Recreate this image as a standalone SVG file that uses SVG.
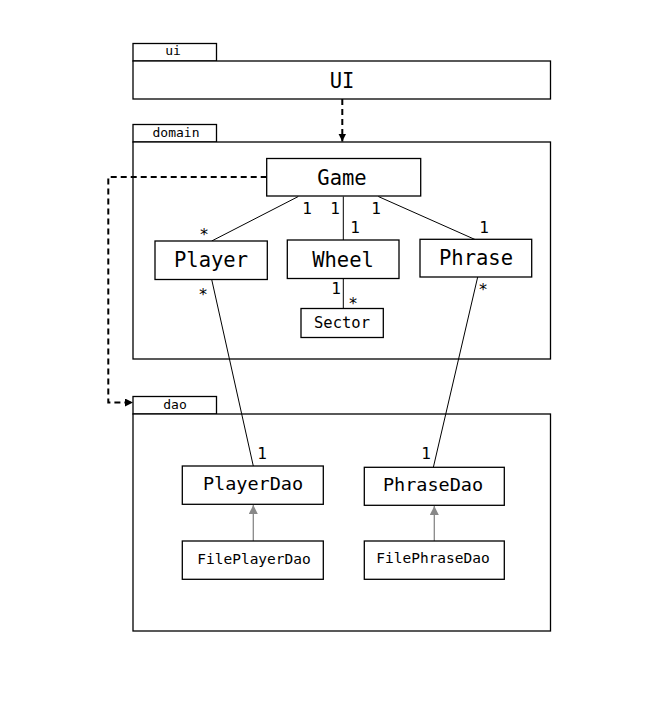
<svg xmlns="http://www.w3.org/2000/svg" width="665" height="714" viewBox="0 0 665 714">
<defs>
<style>
.box{fill:#fff;stroke:#000;stroke-width:1.3}
.pkg{fill:#fff;stroke:#000;stroke-width:1.3}
text{font-family:"DejaVu Sans Mono","Liberation Mono",monospace;fill:#000;text-anchor:middle}
.big{font-size:20.5px}
.mid{font-size:18.5px}
.sm{font-size:15.5px}
.xs{font-size:14.5px}
.tab{font-size:13px}
.mult{font-size:16px}
.assoc{stroke:#000;stroke-width:1;fill:none}
.dep{stroke:#000;stroke-width:2;stroke-dasharray:6 4;fill:none}
.gen{stroke:#888;stroke-width:1.3;fill:none}
</style>
<marker id="dh" viewBox="0 0 10 10" refX="10" refY="5" markerWidth="8" markerHeight="8" markerUnits="userSpaceOnUse" orient="auto"><path d="M0,0 L10,5 L0,10 z" fill="#000"/></marker>
<marker id="gh" viewBox="0 0 10 10" refX="10" refY="5" markerWidth="9" markerHeight="9" markerUnits="userSpaceOnUse" orient="auto"><path d="M0,0 L10,5 L0,10 z" fill="#888"/></marker>
</defs>
<rect width="665" height="714" fill="#fff"/>

<g id="pkg-ui">
<rect class="pkg" x="133" y="43.5" width="83.5" height="17.5"/>
<text class="tab" x="173" y="55">ui</text>
<rect class="pkg" x="133" y="61" width="417.5" height="38"/>
<text class="big" x="342" y="88">UI</text>
</g>

<g id="pkg-domain">
<rect class="pkg" x="133" y="124.5" width="83.5" height="17.5"/>
<text class="tab" x="176" y="137">domain</text>
<rect class="pkg" x="133" y="142" width="417.5" height="217"/>
</g>

<g id="pkg-dao">
<rect class="pkg" x="133" y="396.5" width="83.5" height="17.5"/>
<text class="tab" x="175" y="409">dao</text>
<rect class="pkg" x="133" y="414" width="417.5" height="217"/>
</g>

<g id="connectors">
<line class="dep" x1="342.3" y1="99" x2="342.3" y2="141.5" marker-end="url(#dh)"/>
<polyline class="dep" points="266.7,177 108.3,177 108.3,402.5 133,402.5" marker-end="url(#dh)"/>
<line class="assoc" x1="298.3" y1="196.5" x2="211.7" y2="241"/>
<line class="assoc" x1="343.3" y1="196.5" x2="343.3" y2="240"/>
<line class="assoc" x1="378.3" y1="196.5" x2="475" y2="239.5"/>
<line class="assoc" x1="343.3" y1="278.5" x2="343.3" y2="308.5"/>
<line class="assoc" x1="211.7" y1="279.5" x2="253.3" y2="466"/>
<line class="assoc" x1="477.7" y1="277" x2="433.3" y2="467.5"/>
<line class="gen" x1="253.3" y1="541" x2="253.3" y2="505" marker-end="url(#gh)"/>
<line class="gen" x1="434.3" y1="541" x2="434.3" y2="506" marker-end="url(#gh)"/>
<text class="mult" x="307" y="214">1</text>
<text class="mult" x="335" y="214">1</text>
<text class="mult" x="376" y="214">1</text>
<text class="mult" x="355" y="233">1</text>
<text class="mult" x="484" y="233">1</text>
<text class="mult" x="204" y="240">*</text>
<text class="mult" x="203" y="300">*</text>
<text class="mult" x="336" y="294">1</text>
<text class="mult" x="353" y="309">*</text>
<text class="mult" x="483" y="295">*</text>
<text class="mult" x="262" y="459">1</text>
<text class="mult" x="426" y="459">1</text>
</g>

<g id="Game">
<rect class="box" x="266.7" y="158.5" width="154" height="37.5"/>
<text class="big" x="342" y="185">Game</text>
</g>
<g id="Player">
<rect class="box" x="155" y="241" width="112.3" height="38.5"/>
<text class="big" x="211" y="267">Player</text>
</g>
<g id="Wheel">
<rect class="box" x="287.3" y="240" width="111.7" height="38.5"/>
<text class="big" x="343" y="266.5">Wheel</text>
</g>
<g id="Phrase">
<rect class="box" x="420" y="239.3" width="111.7" height="37.7"/>
<text class="big" x="476" y="265">Phrase</text>
</g>
<g id="Sector">
<rect class="box" x="301" y="308.5" width="82.3" height="29"/>
<text class="sm" x="342" y="327.5">Sector</text>
</g>
<g id="PlayerDao">
<rect class="box" x="182.3" y="466" width="141" height="38.3"/>
<text class="mid" x="253" y="490">PlayerDao</text>
</g>
<g id="PhraseDao">
<rect class="box" x="364.3" y="467.3" width="140" height="38"/>
<text class="mid" x="433" y="491">PhraseDao</text>
</g>
<g id="FilePlayerDao">
<rect class="box" x="182.3" y="541" width="141" height="38.3"/>
<text class="xs" x="254" y="563.5">FilePlayerDao</text>
</g>
<g id="FilePhraseDao">
<rect class="box" x="364.3" y="541" width="140" height="38.3"/>
<text class="xs" x="433" y="562.5">FilePhraseDao</text>
</g>
</svg>
